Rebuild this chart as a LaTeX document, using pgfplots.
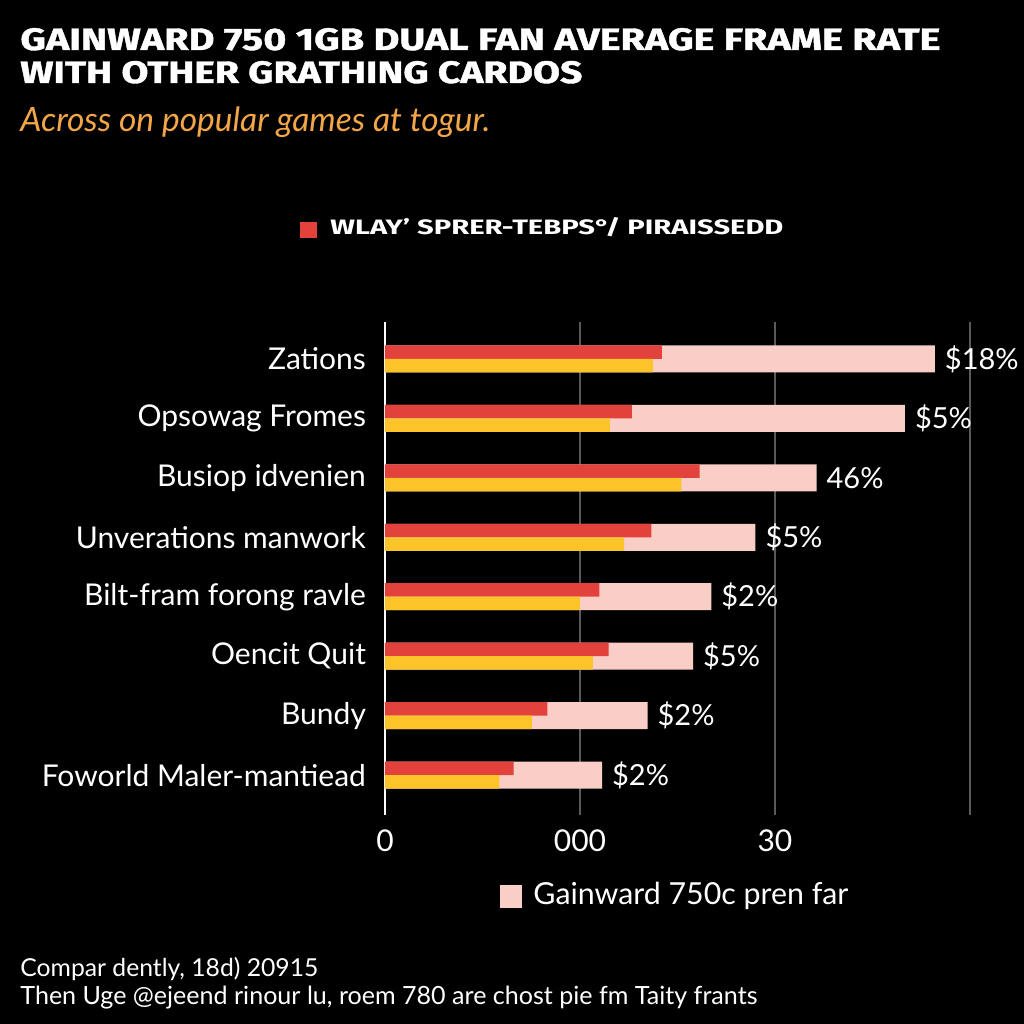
\documentclass[border=0pt]{standalone}
\usepackage{pgfplots}
\pgfplotsset{compat=1.18}
\usepackage{fontspec}
\setmainfont{Lato}
\newfontfamily\titlefont{Fira Sans}[BoldFeatures={FakeBold=1.2}]
\newfontfamily\legfont{Fira Sans}
\definecolor{redc}{HTML}{E2413C}
\definecolor{yelc}{HTML}{FDC42A}
\definecolor{pinkc}{HTML}{F8CEC6}
\definecolor{orc}{HTML}{F2A648}
\definecolor{gridc}{HTML}{5A5A5A}

\begin{document}
\begin{tikzpicture}
\fill[black] (0pt,0pt) rectangle (512pt,512pt);
\useasboundingbox (0pt,0pt) rectangle (512pt,512pt);
\coordinate (O) at (192.5pt,104.5pt);
\node[anchor=base west,inner sep=0,text=white] at (10pt,487pt) {\resizebox{460pt}{11pt}{\titlefont\bfseries GAINWARD 750 1GB DUAL FAN AVERAGE FRAME RATE}};
\node[anchor=base west,inner sep=0,text=white] at (10pt,470.5pt) {\resizebox{281pt}{11pt}{\titlefont\bfseries WITH OTHER GRATHING CARDOS}};
\node[anchor=base west,inner sep=0,text=orc] at (10pt,446pt) {\resizebox{235pt}{!}{\itshape Across on popular games at togur.}};
% top legend
\fill[redc] (150pt,393pt) rectangle (158.5pt,401pt);
\node[anchor=base west,inner sep=0,text=white] at (165pt,394.5pt) {\resizebox{226.5pt}{8.5pt}{\legfont\bfseries WLAY’ SPRER-TEBPS°/ PIRAISSEDD}};

\begin{axis}[
at={(O)},anchor=south west,scale only axis,
width=299pt,height=246.5pt,
xmin=0,xmax=46,ymin=-0.67,ymax=7.62,
axis lines=left,axis line style={-},
x axis line style={draw=none},
y axis line style={white,line width=1pt},
major tick length=0pt,
xtick={0,15,30,45},xticklabels={0,000,30,{}},
xmajorgrids,grid style={gridc,line width=0.8pt},
ytick={0,...,7},
yticklabels={Foworld Maler-mantiead,Bundy,Oencit Quit,Bilt-fram forong ravle,Unverations manwork,Busiop idvenien,Opsowag Fromes,Zations},
ticklabel style={font=\fontsize{15}{18}\selectfont,text=white},
yticklabel style={xshift=-6pt},
xticklabel style={yshift=-4pt},
clip=false,
]
\addplot[xbar,bar width=13.5pt,bar shift=0pt,fill=pinkc,draw=none,
  nodes near coords,point meta=explicit symbolic,
  nodes near coords style={text=white,font=\fontsize{14.5}{18}\selectfont,anchor=west,xshift=1.5pt}]
  coordinates {(42.3,7)[\$18\%] (40.0,6)[\$5\%] (33.2,5)[46\%] (28.5,4)[\$5\%]
               (25.1,3)[\$2\%] (23.7,2)[\$5\%] (20.2,1)[\$2\%] (16.7,0)[\$2\%]};
\addplot[xbar,bar width=6.75pt,bar shift=3.375pt,fill=redc,draw=none]
  coordinates {(21.3,7) (19.0,6) (24.2,5) (20.5,4) (16.5,3) (17.2,2) (12.5,1) (9.9,0)};
\addplot[xbar,bar width=6.75pt,bar shift=-3.375pt,fill=yelc,draw=none]
  coordinates {(20.6,7) (17.3,6) (22.8,5) (18.4,4) (15.0,3) (16.0,2) (11.3,1) (8.8,0)};
\end{axis}

% bottom legend
\fill[pinkc] (250pt,58pt) rectangle (261pt,69.5pt);
\node[anchor=base west,inner sep=0,text=white] at (266.5pt,59.5pt) {\resizebox{157.5pt}{!}{Gainward 750c pren far}};
% footnote
\node[anchor=base west,inner sep=0,text=white] at (10pt,23.5pt) {\resizebox{149pt}{!}{Compar dently, 18d) 20915}};
\node[anchor=base west,inner sep=0,text=white] at (10pt,9.5pt) {\resizebox{368.5pt}{!}{Then Uge @ejeend rinour lu, roem 780 are chost pie fm Taity frants}};
\end{tikzpicture}
\end{document}
